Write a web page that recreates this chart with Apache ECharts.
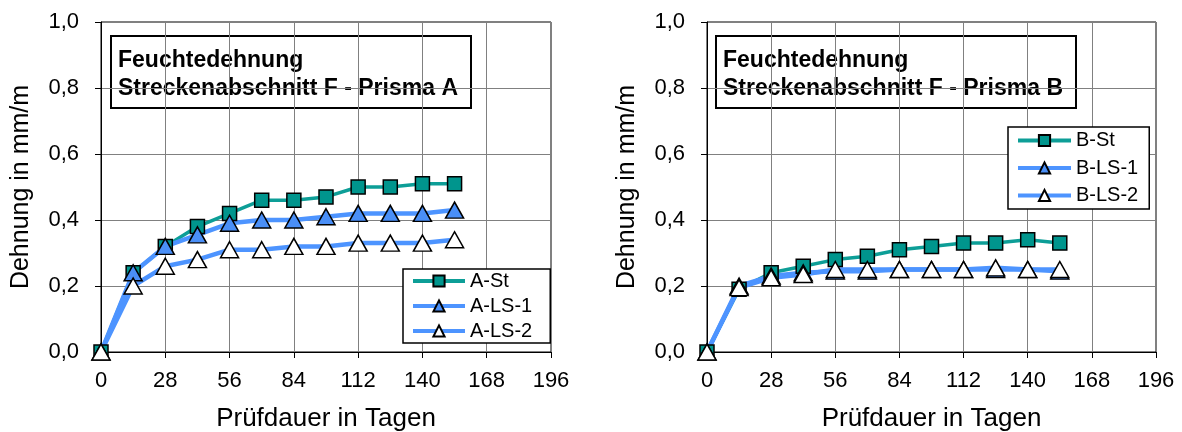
<!DOCTYPE html>
<html>
<head>
<meta charset="utf-8">
<script src="https://cdn.jsdelivr.net/npm/echarts@6.0.0/dist/echarts.min.js"></script>
<style>
html,body{margin:0;padding:0;background:#fff;}
#c{width:1182px;height:432px;}
</style>
</head>
<body>
<div id="c"></div>
<script>
// ---- data ----
const days = [0, 14, 28, 42, 56, 70, 84, 98, 112, 126, 140, 154];
const xTicks = [0, 28, 56, 84, 112, 140, 168, 196];
const yTickLabels = ['0,0', '0,2', '0,4', '0,6', '0,8', '1,0'];

const aSt  = [0, 0.24, 0.32, 0.38, 0.42, 0.46, 0.46, 0.47, 0.50, 0.50, 0.51, 0.51];
const aLS1 = [0, 0.24, 0.32, 0.355, 0.39, 0.40, 0.40, 0.41, 0.42, 0.42, 0.42, 0.43];
const aLS2 = [0, 0.20, 0.26, 0.28, 0.31, 0.31, 0.32, 0.32, 0.33, 0.33, 0.33, 0.34];

const bSt  = [0, 0.19, 0.24, 0.26, 0.28, 0.29, 0.31, 0.32, 0.33, 0.33, 0.34, 0.33];
const bLS1 = [0, 0.20, 0.23, 0.24, 0.245, 0.245, 0.25, 0.25, 0.25, 0.25, 0.25, 0.245];
const bLS2 = [0, 0.195, 0.225, 0.235, 0.25, 0.25, 0.25, 0.25, 0.25, 0.255, 0.25, 0.25];

const titleLine1 = 'Feuchtedehnung';
const titleA = 'Streckenabschnitt F - Prisma A';
const titleB = 'Streckenabschnitt F - Prisma B';
const xName = 'Prüfdauer in Tagen';
const yName = 'Dehnung in mm/m';

// ---- styling ----
const FONT = '"Liberation Sans", Arial, sans-serif';
const TEAL_LINE = '#0d9e97';
const TEAL_FILL = '#00958d';
const BLUE_LINE = '#4d94ff';
const BLUE_FILL = '#4a8ff7';

const pairs = (vals) => days.map((d, i) => [d, vals[i]]);

function xAxisCfg(gi) {
  return {
    type: 'value', gridIndex: gi, min: xTicks[0], max: xTicks[xTicks.length - 1], interval: 28,
    name: xName, nameLocation: 'middle', nameGap: 54,
    nameTextStyle: {fontSize: 26, fontFamily: FONT, color: '#000'},
    axisLine: {show: true, onZero: false, lineStyle: {color: '#000', width: 1}},
    axisTick: {show: true, inside: false, length: 6, lineStyle: {color: '#000'}},
    axisLabel: {fontSize: 22, fontFamily: FONT, color: '#000', margin: 18},
    splitLine: {show: true, lineStyle: {color: '#808080', width: 1}}
  };
}
function yAxisCfg(gi) {
  return {
    type: 'value', gridIndex: gi, min: 0, max: 1, interval: 0.2,
    name: yName, nameLocation: 'middle', nameGap: 67, nameRotate: 90,
    nameTextStyle: {fontSize: 25, fontFamily: FONT, color: '#000'},
    axisLine: {show: true, lineStyle: {color: '#000', width: 1}},
    axisTick: {show: true, inside: false, length: 6, lineStyle: {color: '#000'}},
    axisLabel: {fontSize: 22, fontFamily: FONT, color: '#000', margin: 22,
      formatter: (v) => yTickLabels[Math.round(v / 0.2)]},
    splitLine: {show: true, lineStyle: {color: '#808080', width: 1}}
  };
}
function seriesCfg(name, vals, gi, kind) {
  const base = {
    name: name, type: 'line', xAxisIndex: gi, yAxisIndex: gi,
    data: pairs(vals), showAllSymbol: true, animation: false,
    emphasis: {disabled: true}
  };
  if (kind === 'st') {
    base.symbol = 'rect'; base.symbolSize = 14;
    base.lineStyle = {color: TEAL_LINE, width: 3.5};
    base.itemStyle = {color: TEAL_FILL, borderColor: '#000', borderWidth: 1.5};
  } else {
    base.symbol = 'triangle'; base.symbolSize = [18, 16];
    base.lineStyle = {color: BLUE_LINE, width: 4.5};
    base.itemStyle = {color: kind === 'ls1' ? BLUE_FILL : '#ffffff', borderColor: '#000', borderWidth: 1.5};
  }
  return base;
}
function titleBox(x, w, line2) {
  return {
    type: 'group', left: x, top: 35,
    children: [
      {type: 'rect', shape: {x: 0, y: 0, width: w, height: 72},
       style: {fill: '#fff', stroke: '#000', lineWidth: 2}},
      {type: 'text', x: 7, y: 25, style: {text: titleLine1, font: 'bold 23px ' + FONT, fill: '#000', textVerticalAlign: 'middle'}},
      {type: 'text', x: 7, y: 53, style: {text: line2, font: 'bold 23px ' + FONT, fill: '#000', textVerticalAlign: 'middle'}}
    ]
  };
}

const gridBase = {show: true, borderColor: '#000', borderWidth: 1, backgroundColor: 'transparent',
  containLabel: false, outerBoundsMode: 'none'};

const chart = echarts.init(document.getElementById('c'), null, {renderer: 'canvas'});
chart.setOption({
  animation: false,
  backgroundColor: '#fff',
  grid: [
    Object.assign({left: 101, top: 22, width: 450, height: 330}, gridBase),
    Object.assign({left: 707, top: 22, width: 449, height: 330}, gridBase)
  ],
  xAxis: [xAxisCfg(0), xAxisCfg(1)],
  yAxis: [yAxisCfg(0), yAxisCfg(1)],
  legend: [
    {data: ['A-St', 'A-LS-1', 'A-LS-2'], orient: 'vertical', left: 403, top: 269,
     itemWidth: 52, itemHeight: 14, itemGap: 5, padding: [2, 18, 2, 8],
     borderColor: '#000', borderWidth: 1.5, backgroundColor: '#fff', selectedMode: false,
     lineStyle: {width: 4},
     textStyle: {fontSize: 20, fontFamily: FONT, color: '#000'}},
    {data: ['B-St', 'B-LS-1', 'B-LS-2'], orient: 'vertical', left: 1008, top: 127,
     itemWidth: 53, itemHeight: 14, itemGap: 7.5, padding: [3.5, 11, 3.5, 8],
     borderColor: '#000', borderWidth: 1.5, backgroundColor: '#fff', selectedMode: false,
     lineStyle: {width: 4},
     textStyle: {fontSize: 20, fontFamily: FONT, color: '#000'}}
  ],
  graphic: [titleBox(110, 360, titleA), titleBox(715, 360, titleB)],
  series: [
    seriesCfg('A-St', aSt, 0, 'st'),
    seriesCfg('A-LS-1', aLS1, 0, 'ls1'),
    seriesCfg('A-LS-2', aLS2, 0, 'ls2'),
    seriesCfg('B-St', bSt, 1, 'st'),
    seriesCfg('B-LS-1', bLS1, 1, 'ls1'),
    seriesCfg('B-LS-2', bLS2, 1, 'ls2')
  ]
});
</script>
</body>
</html>
